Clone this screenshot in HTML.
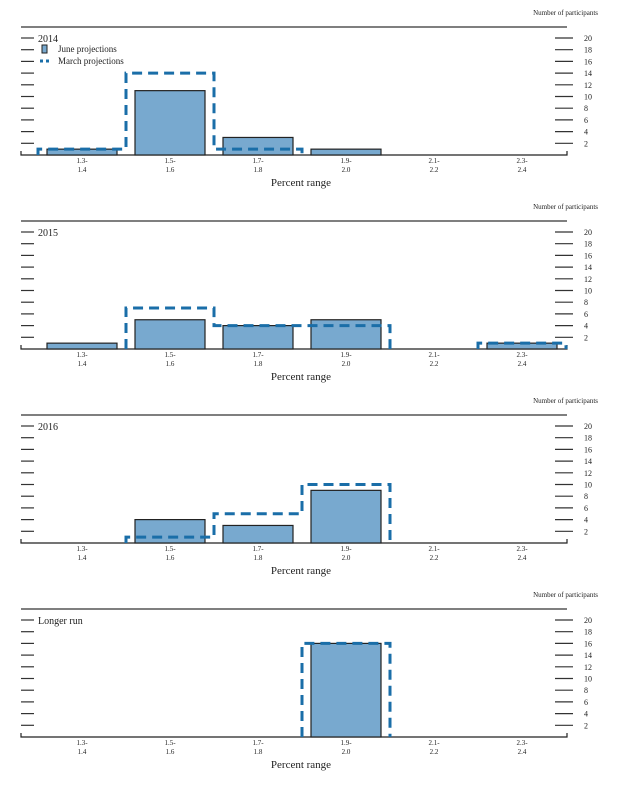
<!DOCTYPE html>
<html><head><meta charset="utf-8"><style>
body{margin:0;background:#fff;}
svg{display:block;font-family:"Liberation Serif",serif;}
</style></head><body>
<svg id="c" width="620" height="785"></svg>
<script>
const panels = ["2014","2015","2016","Longer run"];
const categoriesTop = ["1.3-","1.5-","1.7-","1.9-","2.1-","2.3-"];
const categoriesBottom = ["1.4","1.6","1.8","2.0","2.2","2.4"];
const juneValues = [[1,11,3,1,0,0],[1,5,4,5,0,1],[0,4,3,9,0,0],[0,0,0,16,0,0]];
const marchValues = [[1,14,1,0,0,0],[0,7,4,4,0,1],[0,1,5,10,0,0],[0,0,0,16,0,0]];
const yTicks = [2,4,6,8,10,12,14,16,18,20];

const NS="http://www.w3.org/2000/svg";
const svg=document.getElementById('c');
function mk(tag,attrs,parent){const e=document.createElementNS(NS,tag);for(const k in attrs)e.setAttribute(k,attrs[k]);(parent||svg).appendChild(e);return e;}
const L=21,R=567,slot0=38,slotW=88,barW=70;
const xC=i=>slot0+slotW*i+slotW/2;
panels.forEach((name,p)=>{
  const top=27+194*p, base=155+194*p;
  const y=v=>base-v*5.85;
  const g=mk('g',{});
  
  
  let t=mk('text',{x:598,y:top-12,'font-size':7,'text-anchor':'end',fill:'#222'},g);t.textContent='Number of participants';
  
  mk('line',{x1:L,x2:R,y1:top,y2:top,stroke:'#333','stroke-width':1.2},g);
  mk('path',{d:`M${L} ${base-4}V${base}H${R}V${base-4}`,fill:'none',stroke:'#222','stroke-width':1.2},g);
  yTicks.forEach(v=>{
    mk('line',{x1:L,x2:L+13,y1:y(v),y2:y(v),stroke:'#333','stroke-width':1.2},g);
    mk('line',{x1:R-12,x2:R+6,y1:y(v),y2:y(v),stroke:'#333','stroke-width':1.2},g);
    const tt=mk('text',{x:584,y:y(v)+3,'font-size':8,fill:'#222'},g);tt.textContent=v;
    
  });
  const ti=mk('text',{x:38,y:y(20)+4,'font-size':10,fill:'#222'},g);ti.textContent=name;
  
  juneValues[p].forEach((v,i)=>{
    if(!v)return;
    const r=mk('rect',{x:xC(i)-barW/2,y:y(v),width:barW,height:base-y(v),fill:'#78a9cf',stroke:'#222','stroke-width':1.2},g);
    
  });
  const m=marchValues[p];let d='';
  for(let i=0;i<m.length;i++){
    if(!m[i])continue;
    const x0=slot0+slotW*i,x1=x0+slotW;
    if(i===0||!m[i-1]) d+=`M${x0} ${base}V${y(m[i])}`; else d+=`V${y(m[i])}`;
    d+=`H${x1}`;
    if(i===m.length-1||!m[i+1]) d+=`V${base}`;
  }
  const mp=mk('path',{d,fill:'none',stroke:'#1a6ea8','stroke-width':3,'stroke-dasharray':'10,6'},g);
  
  categoriesTop.forEach((c,i)=>{
    const a=mk('text',{x:xC(i),y:base+8,'font-size':7,'text-anchor':'middle',fill:'#222'},g);a.textContent=c;
    
    const b=mk('text',{x:xC(i),y:base+17,'font-size':7,'text-anchor':'middle',fill:'#222'},g);b.textContent=categoriesBottom[i];
  });
  const xl=mk('text',{x:301,y:base+31,'font-size':11,'text-anchor':'middle',fill:'#222'},g);xl.textContent='Percent range';
  
  if(p===0){
    const lg=mk('g',{},g);
    
    mk('rect',{x:42,y:45,width:5,height:8,fill:'#78a9cf',stroke:'#222','stroke-width':1},lg);
    const l1=mk('text',{x:58,y:52,'font-size':9,fill:'#222'},lg);l1.textContent='June projections';
    mk('line',{x1:40,x2:52,y1:61,y2:61,stroke:'#1a6ea8','stroke-width':3,'stroke-dasharray':'3,3'},lg);
    const l2=mk('text',{x:58,y:64,'font-size':9,fill:'#222'},lg);l2.textContent='March projections';
  }
});
</script>
</body></html>
